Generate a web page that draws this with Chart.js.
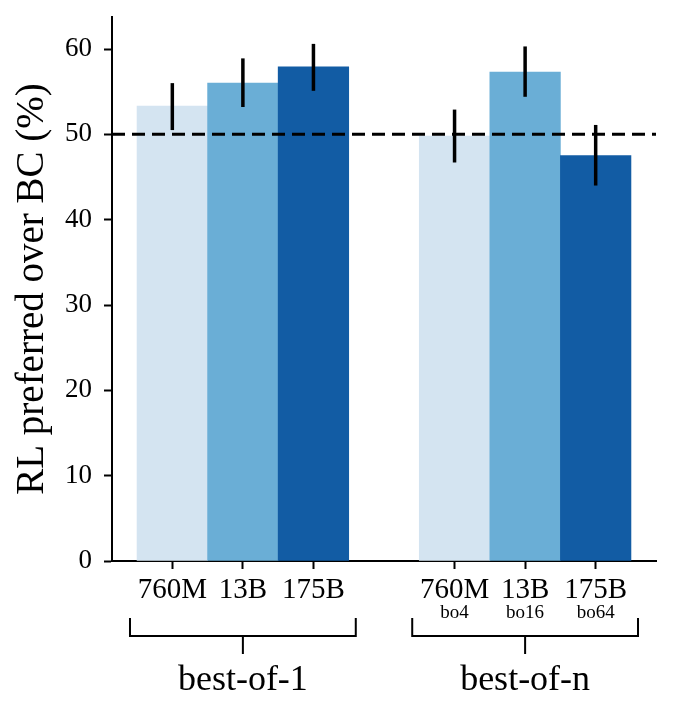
<!DOCTYPE html>
<html>
<head>
<meta charset="utf-8">
<script src="https://cdn.jsdelivr.net/npm/chart.js@4.4.0/dist/chart.umd.min.js"></script>
<style>
  html, body { margin: 0; padding: 0; background: #fff; }
</style>
</head>
<body>
<canvas id="chart" width="674" height="716"></canvas>
<script>
// data
const positions = [0, 1, 2, 4, 5, 6];
const modelLabels = ['760M', '13B', '175B', '760M', '13B', '175B'];
const subLabels = ['', '', '', 'bo4', 'bo16', 'bo64'];
const preferred = [53.3, 56.0, 57.9, 49.8, 57.3, 47.5];
const errLow = [50.5, 53.2, 55.1, 46.7, 54.4, 44.0];
const errHigh = [56.0, 58.9, 60.6, 52.9, 60.3, 51.1];
const barColors = ['#d4e4f1', '#6aaed6', '#125ca4', '#d4e4f1', '#6aaed6', '#125ca4'];
const groupNames = ['best-of-1', 'best-of-n'];
const groupCenters = [1, 5];
const groupSpans = [[-0.6, 2.6], [3.4, 6.6]];
const yTicks = [0, 10, 20, 30, 40, 50, 60];
const chanceLevel = 50;

const FONT = "'Liberation Serif', 'Times New Roman', serif";

// dashed 50% line + error bars, drawn over the bars
const overlayPlugin = {
    id: 'overlay',
    afterDatasetsDraw(chart) {
        const { ctx, chartArea, scales: { x, y } } = chart;
        ctx.save();
        // dashed reference line
        const yc = y.getPixelForValue(chanceLevel);
        ctx.strokeStyle = '#000';
        ctx.lineWidth = 3;
        ctx.setLineDash([13, 7]);
        ctx.beginPath();
        ctx.moveTo(chartArea.left, yc);
        ctx.lineTo(chartArea.right, yc);
        ctx.stroke();
        ctx.setLineDash([]);
        // error bars
        ctx.lineWidth = 3.5;
        positions.forEach((p, i) => {
            const px = x.getPixelForValue(p);
            ctx.beginPath();
            ctx.moveTo(px, y.getPixelForValue(errLow[i]));
            ctx.lineTo(px, y.getPixelForValue(errHigh[i]));
            ctx.stroke();
        });
        ctx.restore();
    },
    afterDraw(chart) {
        const { ctx, chartArea, scales: { x } } = chart;
        const b = chartArea.bottom;
        ctx.save();
        ctx.fillStyle = '#000';
        ctx.strokeStyle = '#000';
        ctx.textAlign = 'center';
        ctx.textBaseline = 'alphabetic';
        // small "boN" labels
        ctx.font = '19px ' + FONT;
        positions.forEach((p, i) => {
            if (subLabels[i]) ctx.fillText(subLabels[i], x.getPixelForValue(p), b + 57);
        });
        // brackets + group names
        ctx.lineWidth = 2;
        ctx.font = '36px ' + FONT;
        groupSpans.forEach((span, g) => {
            const x0 = x.getPixelForValue(span[0]);
            const x1 = x.getPixelForValue(span[1]);
            const xc = x.getPixelForValue(groupCenters[g]);
            ctx.beginPath();
            ctx.moveTo(x0, b + 57);
            ctx.lineTo(x0, b + 75);
            ctx.lineTo(x1, b + 75);
            ctx.lineTo(x1, b + 57);
            ctx.moveTo(xc, b + 75);
            ctx.lineTo(xc, b + 93);
            ctx.stroke();
            ctx.fillText(groupNames[g], xc, b + 129);
        });
        ctx.restore();
    }
};

new Chart(document.getElementById('chart'), {
    type: 'bar',
    data: {
        datasets: [{
            data: positions.map((p, i) => ({ x: p, y: preferred[i] })),
            backgroundColor: barColors,
            borderWidth: 0,
            categoryPercentage: 1.0,
            barPercentage: 1.0
        }]
    },
    options: {
        responsive: false,
        animation: false,
        devicePixelRatio: 1,
        layout: { padding: { top: 17, right: 18, left: 0, bottom: 0 } },
        plugins: {
            legend: { display: false },
            tooltip: { enabled: false }
        },
        scales: {
            x: {
                type: 'linear',
                offset: false,
                min: -0.855,
                max: 6.855,
                afterBuildTicks: scale => { scale.ticks = positions.map(v => ({ value: v })); },
                afterFit: scale => { scale.height = 155; scale.paddingLeft = 0; scale.paddingRight = 0; },
                ticks: {
                    autoSkip: false,
                    maxRotation: 0,
                    padding: 4,
                    color: '#000',
                    font: { family: FONT, size: 29 },
                    callback: (val) => modelLabels[positions.indexOf(val)]
                },
                grid: { offset: false, drawOnChartArea: false, drawTicks: true, tickLength: 8, tickColor: '#000', tickWidth: 2 },
                border: { display: true, color: '#000', width: 2 }
            },
            y: {
                min: 0,
                max: 63.75,
                afterBuildTicks: scale => { scale.ticks = yTicks.map(v => ({ value: v })); },
                afterFit: scale => { scale.width = 112; scale.paddingTop = 0; scale.paddingBottom = 0; },
                ticks: {
                    padding: 12,
                    color: '#000',
                    font: { family: FONT, size: 27 }
                },
                title: {
                    display: true,
                    text: 'RL preferred over BC (%)',
                    color: '#000',
                    font: { family: FONT, size: 39 },
                    padding: { top: 9, bottom: 0 }
                },
                grid: { drawOnChartArea: false, drawTicks: true, tickLength: 8, tickColor: '#000', tickWidth: 2 },
                border: { display: true, color: '#000', width: 2 }
            }
        }
    },
    plugins: [overlayPlugin]
});
</script>
</body>
</html>
